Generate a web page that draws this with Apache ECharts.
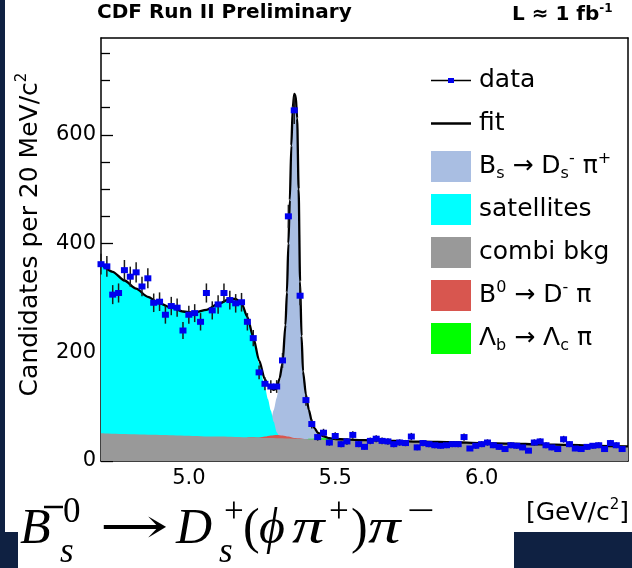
<!DOCTYPE html>
<html><head><meta charset="utf-8">
<script src="https://cdn.jsdelivr.net/npm/echarts@6/dist/echarts.min.js"></script>
<style>html,body{margin:0;padding:0;background:#fff}#c{width:632px;height:568px}</style>
</head><body><div id="c"></div>
<script>
// ---------- data ----------
const binCenters = [4.70,4.72,4.74,4.76,4.78,4.80,4.82,4.84,4.86,4.88,4.90,4.92,4.94,4.96,4.98,5.00,5.02,5.04,5.06,5.08,5.10,5.12,5.14,5.16,5.18,5.20,5.22,5.24,5.26,5.28,5.30,5.32,5.34,5.36,5.38,5.40,5.42,5.44,5.46,5.48,5.50,5.52,5.54,5.56,5.58,5.60,5.62,5.64,5.66,5.68,5.70,5.72,5.74,5.76,5.78,5.80,5.82,5.84,5.86,5.88,5.90,5.92,5.94,5.96,5.98,6.00,6.02,6.04,6.06,6.08,6.10,6.12,6.14,6.16,6.18,6.20,6.22,6.24,6.26,6.28,6.30,6.32,6.34,6.36,6.38,6.40,6.42,6.44,6.46,6.48];
const dataCounts = [362,358,306,309,351,339,347,321,336,291,293,269,285,282,240,269,272,256,309,277,288,309,296,290,292,256,226,163,142,137,137,185,450,645,304,112,68,44,52,34,46,31,36,48,31,26,37,41,37,36,31,34,33,45,25,33,31,29,28,29,31,31,44,23,28,31,34,29,26,22,29,28,25,19,34,36,29,25,22,40,31,23,22,26,28,29,22,33,29,22];

const fitX = [4.70,4.74,4.78,4.82,4.86,4.90,4.94,4.98,5.02,5.06,5.10,5.14,5.16,5.18,5.20,5.22,5.24,5.26,5.27,5.28,5.29,5.30,5.31,5.32,5.33,5.335,5.34,5.345,5.35,5.355,5.36,5.365,5.37,5.375,5.38,5.385,5.39,5.40,5.41,5.42,5.43,5.44,5.46,5.48,5.50,5.60,5.70,5.80,5.90,6.00,6.10,6.20,6.30,6.40,6.50];
const fitY = [362,348,332,317,302,290,282,275,273,278,289,298,298,290,265,228,185,150,140,134,131,133,152,180,250,310,400,480,580,650,675,672,630,500,330,230,165,122,94,73,60,52,45.5,42,40.5,38.5,37,35.5,34.5,33,32,30.5,29.5,28,27];

const satX = [4.70,4.74,4.78,4.82,4.86,4.90,4.94,4.98,5.02,5.06,5.10,5.14,5.16,5.18,5.20,5.22,5.24,5.26,5.27,5.28,5.29,5.30,5.31,5.32,5.34];
const satY = [362,348,332,317,302,290,282,275,273,278,289,298,298,290,264,226,180,136,114,93,72,53,45,42.5,42];

const bsX = [5.18,5.22,5.24,5.26,5.27,5.28,5.29,5.30,5.31,5.32,5.33,5.335,5.34,5.345,5.35,5.355,5.36,5.365,5.37,5.375,5.38,5.385,5.39,5.40,5.41,5.42,5.43,5.44,5.46,5.48,5.50,5.53];
const bsY = [43.8,45,48,53,61,75,94,116,144,172,244,305,396,477,577,647,672,669,627,497,327,227,162,119,91,70,57,49,43.5,41,39.5,38.5];

const b0X = [5.20,5.24,5.26,5.28,5.30,5.32,5.34,5.36,5.40];
const b0Y = [43.5,43.2,45,47,48,47,45,42.5,40.5];

const lbX = [5.40,5.44,5.47,5.50,5.54,5.58];
const lbY = [40.5,41.4,41.8,41,39.2,37.8];

const combiX = [4.70,4.90,5.10,5.30,5.50,5.70,5.90,6.10,6.30,6.50];
const combiY = [51,48,45,42,39,36,33.5,31,28.5,26];

const xMajorTicks = [5.0,5.5,6.0];
const xMinorTicks = [4.8,4.9,5.1,5.2,5.3,5.4,5.6,5.7,5.8,5.9,6.1,6.2,6.3,6.4];
const yMajorTicks = [0,200,400,600];
const yMinorTicks = [50,100,150,250,300,350,450,500,550,650,700,750];

// ---------- styling ----------
const NAVY = '#0f2142';
const C_BS = '#a9bee2', C_SAT = '#00ffff', C_COMBI = '#999999', C_B0 = '#d8564f', C_LB = '#00ff00';
const SANS = 'DejaVu Sans';

const pairs = (xs, ys) => xs.map((x, i) => [x, ys[i]]);
const areaSeries = (name, xs, ys, color) => ({
  type: 'line', name, data: pairs(xs, ys), smooth: 0.25, smoothMonotone: 'x',
  symbol: 'none', showSymbol: false, lineStyle: { width: 0, color }, itemStyle: { color },
  areaStyle: { color, opacity: 1 }, silent: true, clip: true
});

const svgIcon = s => 'image://data:image/svg+xml;charset=utf-8,' + encodeURIComponent(s);
const dataIcon = svgIcon('<svg xmlns="http://www.w3.org/2000/svg" width="40" height="31"><line x1="0" y1="15.5" x2="40" y2="15.5" stroke="#000" stroke-width="1.6"/><rect x="17" y="13" width="6" height="5" fill="#0000ee"/></svg>');
const fitIcon = svgIcon('<svg xmlns="http://www.w3.org/2000/svg" width="40" height="31"><line x1="0" y1="15.5" x2="40" y2="15.5" stroke="#000" stroke-width="2.4"/></svg>');

const legendLabels = {
  'data': '{g| }{m|data}',
  'fit': '{g| }{m|fit}',
  'Bs': '{g| }{m|B}{sub|s}{m| → D}{sub|s}{sup|-}{m| π}{sup|+}',
  'satellites': '{g| }{m|satellites}',
  'combi bkg': '{g| }{m|combi bkg}',
  'B0': '{g| }{m|B}{sup|0}{m| → D}{sup|-}{m| π}',
  'Lb': '{g| }{m|Λ}{sub|b}{m| → Λ}{sub|c}{m| π}'
};

// formula pieces (layout only)
const SERIF = 'Liberation Serif';
function ftext(str, x, y, size, italic, sx) {
  return {
    type: 'text', x, y, z: 200, scaleX: sx || 1,
    style: { text: str, fontSize: size, fontFamily: SERIF, fontStyle: italic ? 'italic' : 'normal',
      fill: '#000', align: 'left', verticalAlign: 'middle' }
  };
}

const chart = echarts.init(document.getElementById('c'), null, { renderer: 'canvas' });

const option = {
  animation: false,
  backgroundColor: '#ffffff',
  title: [
    { text: 'CDF Run II Preliminary', left: 97, top: 3, padding: 0,
      textStyle: { fontFamily: SANS, fontWeight: 'bold', fontSize: 20, color: '#000' } },
    { text: '{a|L ≈ 1 fb}{s|-1}', left: 512, top: 3, padding: 0,
      textStyle: { rich: {
        a: { fontFamily: SANS, fontWeight: 'bold', fontSize: 20, lineHeight: 24, color: '#000' },
        s: { fontFamily: SANS, fontWeight: 'bold', fontSize: 12, lineHeight: 8, verticalAlign: 'top', color: '#000' } } } }
  ],
  grid: { left: 101, right: 3, top: 38, bottom: 107, containLabel: false },
  legend: {
    orient: 'vertical', left: 426, top: 60, itemWidth: 40, itemHeight: 31, itemGap: 12,
    selectedMode: false,
    data: [
      { name: 'data', icon: dataIcon },
      { name: 'fit', icon: fitIcon },
      { name: 'Bs', icon: 'rect' },
      { name: 'satellites', icon: 'rect' },
      { name: 'combi bkg', icon: 'rect' },
      { name: 'B0', icon: 'rect' },
      { name: 'Lb', icon: 'rect' }
    ],
    formatter: n => legendLabels[n],
    textStyle: {
      color: '#000', fontFamily: SANS, fontSize: 25,
      rich: {
        g: { width: 3, fontSize: 25, lineHeight: 31 },
        m: { fontFamily: SANS, fontSize: 25, lineHeight: 31, color: '#000' },
        sub: { fontFamily: SANS, fontSize: 16, lineHeight: 15, verticalAlign: 'bottom', color: '#000' },
        sup: { fontFamily: SANS, fontSize: 16, lineHeight: 24, verticalAlign: 'top', color: '#000' }
      }
    }
  },
  xAxis: [
    { type: 'value', min: 4.7, max: 6.5, position: 'bottom',
      name: '{a|[GeV/c}{s|2}{a|]}', nameLocation: 'end', nameGap: 1,
      nameTextStyle: { align: 'right', verticalAlign: 'top', padding: [37, 0, 0, 0],
        rich: { a: { fontFamily: SANS, fontSize: 25, lineHeight: 30, color: '#000' },
                s: { fontFamily: SANS, fontSize: 15, lineHeight: 20, verticalAlign: 'top', color: '#000' } } },
      axisLine: { show: true, onZero: false, lineStyle: { color: '#000', width: 1.5 } },
      axisTick: { show: true, inside: true, length: 13, customValues: xMajorTicks, lineStyle: { color: '#000', width: 1.5 } },
      axisLabel: { customValues: xMajorTicks, formatter: v => v.toFixed(1), margin: 7,
        fontFamily: SANS, fontSize: 21, color: '#000' },
      splitLine: { show: false } },
    { type: 'value', min: 4.7, max: 6.5, position: 'bottom',
      axisLine: { show: false },
      axisTick: { show: true, inside: true, length: 7, customValues: xMinorTicks, lineStyle: { color: '#000', width: 1.3 } },
      axisLabel: { show: false }, splitLine: { show: false } },
    { type: 'value', min: 4.7, max: 6.5, position: 'top',
      axisLine: { show: true, onZero: false, lineStyle: { color: '#000', width: 1.5 } },
      axisTick: { show: false }, axisLabel: { show: false }, splitLine: { show: false } }
  ],
  yAxis: [
    { type: 'value', min: 0, max: 778, position: 'left',
      name: '{a|Candidates per 20 MeV/c}{s|2}', nameLocation: 'middle', nameGap: 56,
      nameTextStyle: { padding: [0, 0, 0, 30],
        rich: { a: { fontFamily: SANS, fontSize: 25, lineHeight: 30, color: '#000' },
                s: { fontFamily: SANS, fontSize: 15, lineHeight: 20, verticalAlign: 'top', color: '#000' } } },
      axisLine: { show: true, onZero: false, lineStyle: { color: '#000', width: 1.5 } },
      axisTick: { show: true, inside: true, length: 12, customValues: yMajorTicks, lineStyle: { color: '#000', width: 1.3 } },
      axisLabel: { customValues: yMajorTicks, margin: 5, fontFamily: SANS, fontSize: 21, color: '#000' },
      splitLine: { show: false } },
    { type: 'value', min: 0, max: 778, position: 'left',
      axisLine: { show: false },
      axisTick: { show: true, inside: true, length: 9, customValues: yMinorTicks, lineStyle: { color: '#000', width: 1.3 } },
      axisLabel: { show: false }, splitLine: { show: false } },
    { type: 'value', min: 0, max: 778, position: 'right',
      axisLine: { show: true, onZero: false, lineStyle: { color: '#000', width: 1.5 } },
      axisTick: { show: false }, axisLabel: { show: false }, splitLine: { show: false } }
  ],
  series: [
    areaSeries('Bs', bsX, bsY, C_BS),
    areaSeries('satellites', satX, satY, C_SAT),
    areaSeries('B0', b0X, b0Y, C_B0),
    areaSeries('Lb', lbX, lbY, C_LB),
    areaSeries('combi bkg', combiX, combiY, C_COMBI),
    { type: 'line', name: 'fit', data: pairs(fitX, fitY), smooth: 0.25, smoothMonotone: 'x',
      symbol: 'none', showSymbol: false, lineStyle: { color: '#000', width: 2.3 }, itemStyle: { color: '#000' },
      silent: true, clip: true, z: 3 },
    { type: 'custom', name: 'data', data: pairs(binCenters, dataCounts), z: 4, silent: true,
      itemStyle: { color: '#0000ee' },
      renderItem: (params, api) => {
        const x = api.value(0), y = api.value(1), e = Math.sqrt(y);
        const p = api.coord([x, y]);
        const hi = api.coord([x, y + e]), lo = api.coord([x, y - e]);
        const l = api.coord([x - 0.008, y]), r = api.coord([x + 0.008, y]);
        return { type: 'group', children: [
          { type: 'line', shape: { x1: p[0], y1: hi[1], x2: p[0], y2: lo[1] }, style: { stroke: '#1a1a1a', lineWidth: 1.5 } },
          { type: 'line', shape: { x1: l[0], y1: p[1], x2: r[0], y2: p[1] }, style: { stroke: '#0000ee', lineWidth: 2 } },
          { type: 'rect', shape: { x: p[0] - 3.5, y: p[1] - 3, width: 7, height: 6 }, style: { fill: '#0000ee' } }
        ] };
      } }
  ],
  graphic: [
    { type: 'rect', shape: { x: 0, y: 0, width: 5, height: 532 }, style: { fill: NAVY }, z: 150 },
    { type: 'rect', shape: { x: 0, y: 532, width: 18, height: 36 }, style: { fill: NAVY }, z: 150 },
    { type: 'rect', shape: { x: 514, y: 532, width: 118, height: 36 }, style: { fill: NAVY }, z: 150 },
    // formula  B̄s0 → Ds+ (ϕ π+) π−
    ftext('B', 20, 530, 50, true),
    { type: 'line', shape: { x1: 44, y1: 507, x2: 63, y2: 507 }, style: { stroke: '#000', lineWidth: 2.5 }, z: 200 },
    ftext('0', 63, 513, 35, false),
    ftext('s', 60, 553, 35, true),
    { type: 'text', x: 99, y: 530, scaleX: 1.67, z: 200,
      style: { text: '→', fontSize: 50, fontFamily: 'DejaVu Serif', fill: '#000', align: 'left', verticalAlign: 'middle' } },
    ftext('D', 176, 530, 50, true),
    ftext('+', 224, 513, 35, false),
    ftext('s', 219, 553, 35, true),
    ftext('(', 243, 530, 50, false),
    ftext('ϕ', 259, 530, 50, true),
    ftext('π', 292, 530, 50, true, 1.3),
    ftext('+', 329, 513, 35, false),
    ftext(')', 351, 530, 50, false),
    ftext('π', 368, 530, 50, true, 1.3),
    ftext('−', 407, 513, 35, false, 1.4)
  ]
};
chart.setOption(option);
</script>
</body></html>
